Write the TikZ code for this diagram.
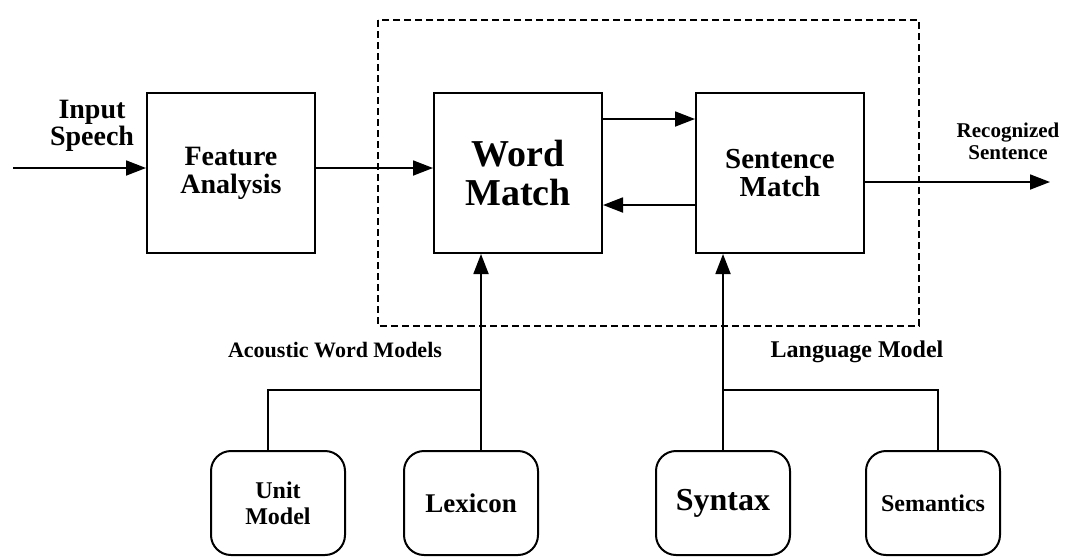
\documentclass[tikz,border=0pt]{standalone}
\usepackage{fontspec}
\setmainfont{Liberation Serif}
\usetikzlibrary{arrows.meta,positioning}

\newcommand{\fsz}[2]{\fontsize{#1}{#2}\selectfont}

\tikzset{
  block/.style={draw, line width=2pt, minimum width=168pt, minimum height=160pt, align=center},
  store/.style={draw, line width=2pt, rounded corners=20pt, minimum width=134pt, minimum height=104pt, align=center},
  label/.style={align=center, inner sep=0pt},
  flow/.style={line width=1.8pt, -{Triangle[length=20pt,width=15pt]}},
  link/.style={line width=1.8pt}
}

\begin{document}
\begin{tikzpicture}[x=1pt, y=-1pt]
\useasboundingbox (0,0) rectangle (1073,558);

% Recognizer core
\draw[line width=1.6pt, dash pattern=on 7pt off 4pt] (378,20) rectangle (919,326);

% Main blocks
\node[block, font=\bfseries\fsz{28}{28}] (fa) at (231,173) {Feature\\Analysis};
\node[block, font=\bfseries\fsz{38}{39}] (wm) at (518,173) {Word\\Match};
\node[block, font=\bfseries\fsz{29}{28}] (sm) at (780,173) {Sentence\\Match};

% Knowledge sources
\node[store, font=\bfseries\fsz{24}{26}] (unit) at (278,503) {Unit\\Model};
\node[store, font=\bfseries\fsz{27}{28}] (lex)  at (471,503) {Lexicon};
\node[store, font=\bfseries\fsz{32}{32}] (syn)  at (723,503) {Syntax};
\node[store, font=\bfseries\fsz{24}{26}] (sem)  at (933,503) {Semantics};

% Labels
\node[label, font=\bfseries\fsz{28}{27}] (inlbl)  at (92,126)   {Input\\Speech};
\node[label, font=\bfseries\fsz{21}{22}] (outlbl) at (1008,141) {Recognized\\Sentence};
\node[label, font=\bfseries\fsz{22}{22}] (awm)    at (335,350)  {Acoustic Word Models};
\node[label, font=\bfseries\fsz{24}{24}] (lm)     at (857,352)  {Language Model};

% Junctions and free ends
\coordinate (in)  at (13,168);
\coordinate (out) at (1050,182);
\coordinate (jA)  at (481,390);
\coordinate (jL)  at (723,390);

% Connections
\draw[flow] (in) -- ([yshift=5pt]fa.west);
\draw[flow] ([yshift=5pt]fa.east) -- ([yshift=5pt]wm.west);
\draw[flow] ([yshift=54pt]wm.east) -- ([yshift=54pt]sm.west);
\draw[flow] ([yshift=-32pt]sm.west) -- ([yshift=-32pt]wm.east);
\draw[flow] ([yshift=-9pt]sm.east) -- (out);

\draw[link] ([xshift=-10pt]unit.north) |- (jA);
\draw[flow] (lex.north -| jA) -- (wm.south -| jA);
\draw[link] ([xshift=5pt]sem.north) |- (jL);
\draw[flow] (syn.north) -- (sm.south -| jL);
\end{tikzpicture}
\end{document}
